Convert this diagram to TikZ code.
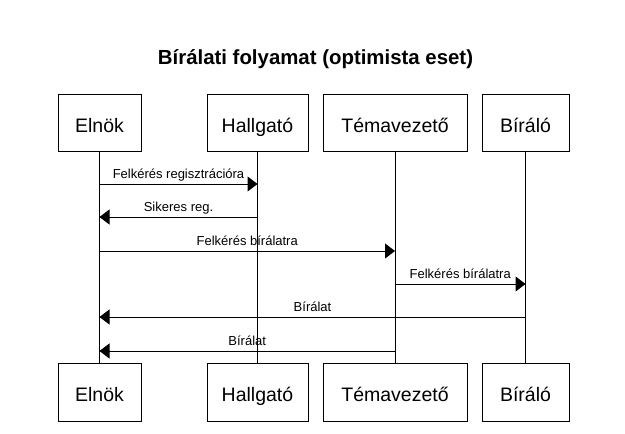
\documentclass[tikz,border=0pt]{standalone}
\usepackage{fontspec}
\setmainfont{Liberation Sans}
\usetikzlibrary{arrows.meta,positioning}

\begin{document}
\begin{tikzpicture}[
    x=1pt, y=-1pt,
    line width=1pt,
    node distance=15pt and 15pt,
    actor/.style={draw, minimum height=57.5pt, inner sep=0pt, text height=18pt, text depth=0pt, font=\fontsize{19.5}{22}\selectfont},
    msg/.style={-{Triangle[length=10pt,width=15pt]}, line width=1pt},
    msglabel/.style={midway, anchor=base, yshift=5.5pt, font=\fontsize{13}{15}\selectfont}
]
\useasboundingbox (0,0) rectangle (625,434);
\node[anchor=base, font=\bfseries\fontsize{20.4}{24}\selectfont] (title) at (315.5,64.5) {Bírálati folyamat (optimista eset)};
% participants, top row
\node[actor, minimum width=83pt] (p1) at (99.5,123) {Elnök};
\node[actor, minimum width=101pt, right=65pt of p1] (p2) {Hallgató};
\node[actor, minimum width=144pt, right=14pt of p2] (p3) {Témavezető};
\node[actor, minimum width=87pt, right=14pt of p3] (p4) {Bíráló};
% participants, bottom row
\node[actor, minimum width=83pt, below=211pt of p1] (q1) {Elnök};
\node[actor, minimum width=101pt, below=211pt of p2] (q2) {Hallgató};
\node[actor, minimum width=144pt, below=211pt of p3] (q3) {Témavezető};
\node[actor, minimum width=87pt, below=211pt of p4] (q4) {Bíráló};
% lifelines
\draw (p1) -- (q1);
\draw (p2) -- (q2);
\draw (p3) -- (q3);
\draw (p4) -- (q4);
% message levels
\coordinate (m1) at (0,184);
\coordinate (m2) at (0,217);
\coordinate (m3) at (0,251);
\coordinate (m4) at (0,284);
\coordinate (m5) at (0,317);
\coordinate (m6) at (0,351);
\draw[msg] (p1 |- m1) -- (p2 |- m1) node[msglabel] {Felkérés regisztrációra};
\draw[msg] (p2 |- m2) -- (p1 |- m2) node[msglabel] {Sikeres reg.};
\draw[msg] (p1 |- m3) -- (p3 |- m3) node[msglabel] {Felkérés bírálatra};
\draw[msg] (p3 |- m4) -- (p4 |- m4) node[msglabel] {Felkérés bírálatra};
\draw[msg] (p4 |- m5) -- (p1 |- m5) node[msglabel] {Bírálat};
\draw[msg] (p3 |- m6) -- (p1 |- m6) node[msglabel] {Bírálat};
\end{tikzpicture}
\end{document}
